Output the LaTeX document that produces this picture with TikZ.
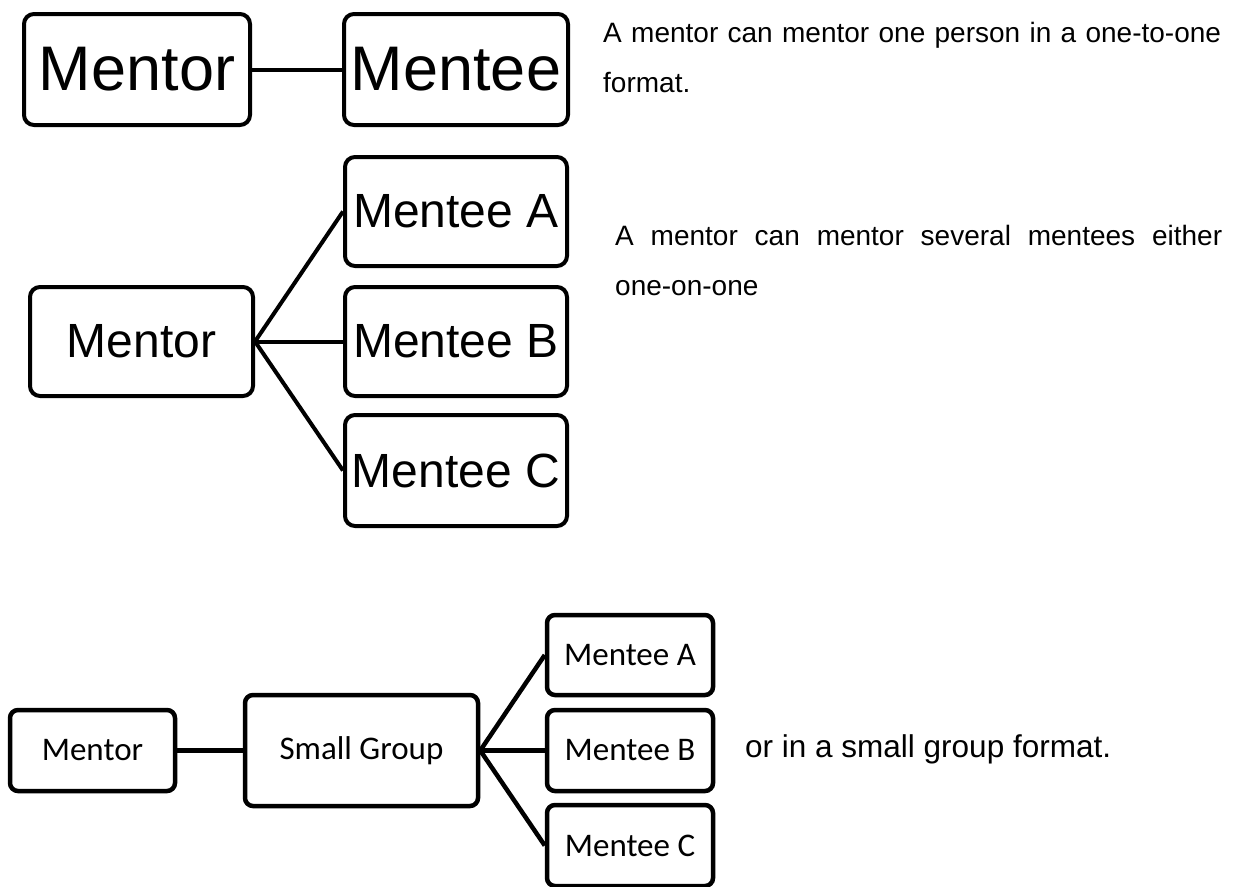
\documentclass[tikz,border=0pt]{standalone}
\usepackage{fontspec}
\setmainfont{Liberation Sans}
\newfontfamily\calibrifont{Carlito}
\begin{document}
\begin{tikzpicture}[x=1pt,y=-1pt,
  box/.style={draw=black, line width=4pt, rounded corners=10pt, rectangle,
    inner sep=0pt, fill=white},
  smallbox/.style={box, line width=4.5pt, rounded corners=8pt},
  link/.style={draw=black, line width=4pt},
  thicklink/.style={link, line width=4.5pt},
  note/.style={inner sep=0pt, font=\fontsize{28}{50}\selectfont}]
\fill[white] (0,0) rectangle (1233,886);
\useasboundingbox (0,0) rectangle (1233,886);

% one-to-one
\node[box, minimum width=226pt, minimum height=111pt,
  font=\fontsize{63}{70}\selectfont] (m1) at (137,69.5) {Mentor};
\node[box, minimum width=224pt, minimum height=111pt,
  font=\fontsize{63}{70}\selectfont] (e1) at (456,69.5) {Mentee};
\draw[link] (m1.east) -- (e1.west);
\node[note, anchor=base west, text width=630pt, align=left] (t1) at (603,42)
  {A mentor can mentor one person in a one-to-one\\format.};

% one-on-one with several mentees
\begin{scope}[every node/.append style={font=\fontsize{48}{56}\selectfont}]
\node[box, minimum width=223pt, minimum height=109pt] (m2) at (141.5,341.5) {Mentor};
\node[box, minimum width=222pt, minimum height=109pt] (a2) at (456,211.5) {Mentee A};
\node[box, minimum width=222pt, minimum height=109pt] (b2) at (456,341.5) {Mentee B};
\node[box, minimum width=222pt, minimum height=111pt] (c2) at (456,470.5) {Mentee C};
\end{scope}
\draw[link] (m2.east) -- (a2.west);
\draw[link] (m2.east) -- (b2.west);
\draw[link] (m2.east) -- (c2.west);
% first line spread over the full column width
\node[note, anchor=base west, text width=607pt, align=left] (t2) at (615,245)
  {\hbox to 607pt{A\hfil mentor\hfil can\hfil mentor\hfil several\hfil mentees\hfil either}\\one-on-one};

% small group
\begin{scope}[every node/.append style={font=\calibrifont\fontsize{33}{40}\selectfont}]
\node[smallbox, minimum width=165pt, minimum height=81pt] (m3) at (92.5,750.5) {Mentor};
\node[smallbox, minimum width=233pt, minimum height=111pt] (g3) at (361.5,750.5) {Small Group};
\node[smallbox, minimum width=166pt, minimum height=80pt] (a3) at (630,655) {Mentee A};
\node[smallbox, minimum width=166pt, minimum height=81pt] (b3) at (630,750.5) {Mentee B};
\node[smallbox, minimum width=166pt, minimum height=81pt] (c3) at (630,845.5) {Mentee C};
\end{scope}
\draw[thicklink] (m3.east) -- (g3.west);
\draw[thicklink] (g3.east) -- (a3.west);
\draw[thicklink] (g3.east) -- (b3.west);
\draw[thicklink] (g3.east) -- (c3.west);
\node[inner sep=0pt, font=\fontsize{31.5}{36}\selectfont, anchor=base west] (t3) at (745,757)
  {or in a small group format.};
\end{tikzpicture}
\end{document}
